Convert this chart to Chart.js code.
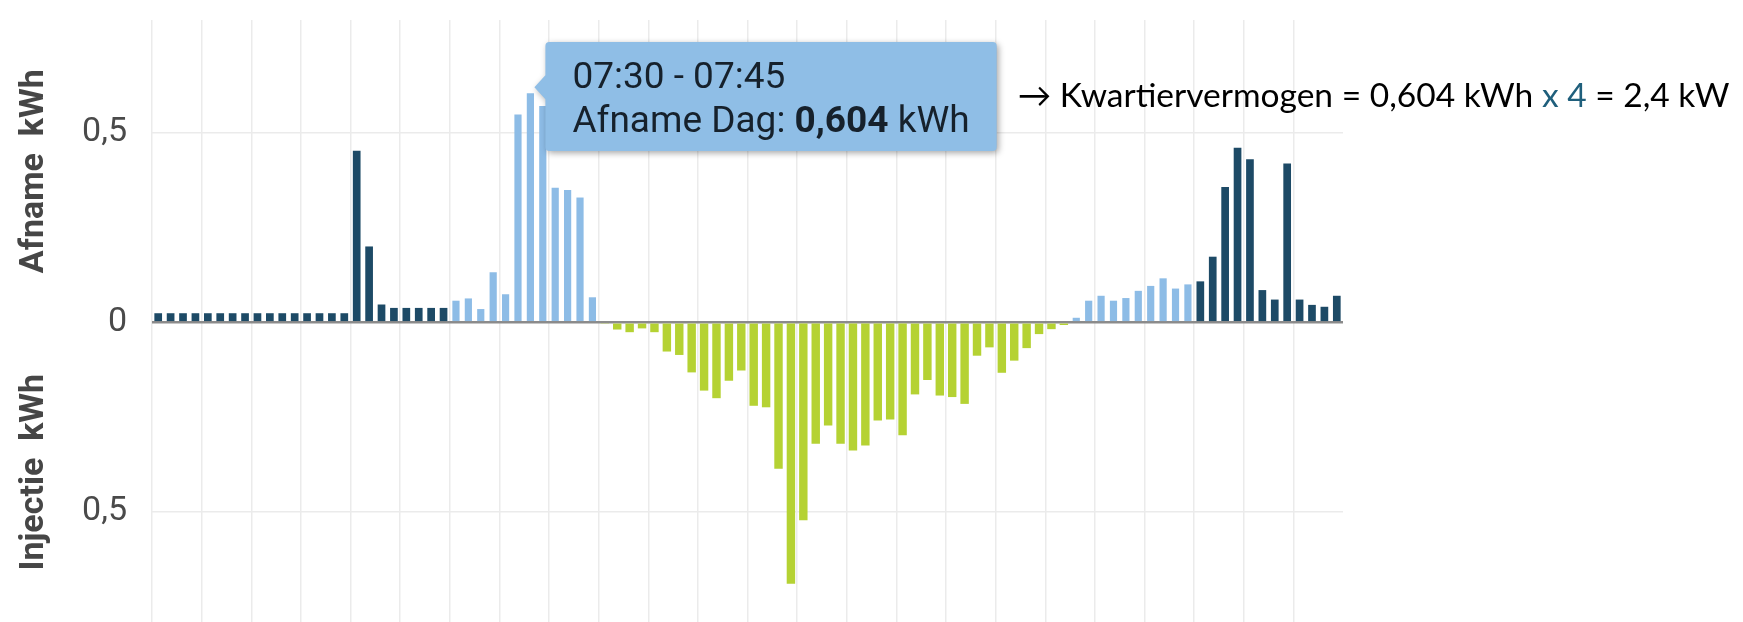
<!DOCTYPE html>
<html><head><meta charset="utf-8">
<script src="https://cdn.jsdelivr.net/npm/chart.js@4"></script>
<style>html,body{margin:0;padding:0;background:#fff;}canvas{display:block}</style>
</head><body>
<canvas id="c" width="1743" height="622"></canvas>
<script>
const kwartieren = [
"00:00","00:15","00:30","00:45","01:00","01:15","01:30","01:45","02:00","02:15","02:30","02:45",
"03:00","03:15","03:30","03:45","04:00","04:15","04:30","04:45","05:00","05:15","05:30","05:45",
"06:00","06:15","06:30","06:45","07:00","07:15","07:30","07:45","08:00","08:15","08:30","08:45",
"09:00","09:15","09:30","09:45","10:00","10:15","10:30","10:45","11:00","11:15","11:30","11:45",
"12:00","12:15","12:30","12:45","13:00","13:15","13:30","13:45","14:00","14:15","14:30","14:45",
"15:00","15:15","15:30","15:45","16:00","16:15","16:30","16:45","17:00","17:15","17:30","17:45",
"18:00","18:15","18:30","18:45","19:00","19:15","19:30","19:45","20:00","20:15","20:30","20:45",
"21:00","21:15","21:30","21:45","22:00","22:15","22:30","22:45","23:00","23:15","23:30","23:45"];

const afnameNacht = [
0.024,0.024,0.024,0.024,0.024,0.024,0.024,0.024,0.024,0.024,0.024,0.024,
0.024,0.024,0.024,0.024,0.452,0.200,0.047,0.038,0.038,0.038,0.038,0.038,
null,null,null,null,null,null,null,null,null,null,null,null,
null,null,null,null,null,null,null,null,null,null,null,null,
null,null,null,null,null,null,null,null,null,null,null,null,
null,null,null,null,null,null,null,null,null,null,null,null,
null,null,null,null,null,null,null,null,null,null,null,null,
0.108,0.173,0.357,0.460,0.430,0.085,0.060,0.419,0.060,0.046,0.041,0.070];

const afnameDag = [
null,null,null,null,null,null,null,null,null,null,null,null,
null,null,null,null,null,null,null,null,null,null,null,null,
0.057,0.063,0.035,0.132,0.074,0.548,0.604,0.570,0.355,0.349,0.329,0.066,
null,null,null,null,null,null,null,null,null,null,null,null,
null,null,null,null,null,null,null,null,null,null,null,null,
null,null,null,null,null,null,null,null,null,null,null,null,
null,null,0.012,0.057,0.070,0.057,0.064,0.083,0.096,0.116,0.089,0.100,
null,null,null,null,null,null,null,null,null,null,null,null];

const injectie = [
null,null,null,null,null,null,null,null,null,null,null,null,
null,null,null,null,null,null,null,null,null,null,null,null,
null,null,null,null,null,null,null,null,null,null,null,null,
-0.004,-0.019,-0.026,-0.016,-0.026,-0.077,-0.086,-0.132,-0.180,-0.200,-0.154,-0.127,
-0.220,-0.224,-0.386,-0.689,-0.522,-0.320,-0.272,-0.320,-0.338,-0.325,-0.259,-0.256,
-0.298,-0.190,-0.152,-0.193,-0.197,-0.215,-0.088,-0.066,-0.133,-0.101,-0.068,-0.031,
-0.018,-0.007,null,null,null,null,null,null,null,null,null,null,
null,null,null,null,null,null,null,null,null,null,null,null];

const yTicks = [-0.5, 0, 0.5];
const yTitels = ['Afname  kWh', 'Injectie  kWh'];
const reeksNamen = ['Afname Nacht', 'Afname Dag', 'Injectie'];
const tooltipIndex = 30;
const notitie = ['\u2192 Kwartiervermogen = 0,604 kWh ', 'x 4', ' = 2,4 kW'];

const fmt = v => String(Math.abs(v)).replace('.', ',');

const overlay = {
  id: 'overlay',
  afterDraw(chart) {
    const ctx = chart.ctx, ca = chart.chartArea, ys = chart.scales.y;
    const y0 = ys.getPixelForValue(0);
    ctx.save();
    // axis titles
    ctx.fillStyle = '#464646';
    ctx.font = 'bold 34px Roboto';
    ctx.textAlign = 'center';
    ctx.textBaseline = 'middle';
    [[yTitels[0], (ca.top + y0) / 2], [yTitels[1], (y0 + ca.bottom) / 2]].forEach(([t, cy]) => {
      ctx.save(); ctx.translate(34, cy); ctx.rotate(-Math.PI / 2); ctx.fillText(t, 0, 0); ctx.restore();
    });

    // tooltip
    const el = chart.getDatasetMeta(1).data[tooltipIndex];
    const title = kwartieren[tooltipIndex] + ' - ' + kwartieren[tooltipIndex + 1];
    const p1 = reeksNamen[1] + ': ';
    const p2 = afnameDag[tooltipIndex].toFixed(3).replace('.', ',');
    const p3 = ' kWh';
    ctx.textAlign = 'left';
    ctx.textBaseline = 'alphabetic';
    const fReg = '37px Roboto', fBold = 'bold 37px Roboto';
    ctx.font = fReg; const w1 = ctx.measureText(p1).width, w3 = ctx.measureText(p3).width, wt = ctx.measureText(title).width;
    ctx.font = fBold; const w2 = ctx.measureText(p2).width;
    const tw = Math.max(wt, w1 + w2 + w3);
    const bx = el.x + 15, by = 42, bw = tw + 54, bh = 109;
    const tipX = el.x + 4, tipY = el.y - 6;
    ctx.save();
    ctx.shadowColor = 'rgba(0,0,0,0.35)'; ctx.shadowBlur = 6; ctx.shadowOffsetX = 2; ctx.shadowOffsetY = 2;
    ctx.fillStyle = '#8fbee6';
    ctx.beginPath();
    const r = 4;
    ctx.moveTo(bx + r, by);
    ctx.lineTo(bx + bw - r, by); ctx.quadraticCurveTo(bx + bw, by, bx + bw, by + r);
    ctx.lineTo(bx + bw, by + bh - r); ctx.quadraticCurveTo(bx + bw, by + bh, bx + bw - r, by + bh);
    ctx.lineTo(bx + r, by + bh); ctx.quadraticCurveTo(bx, by + bh, bx, by + bh - r);
    ctx.lineTo(bx, tipY + 12); ctx.lineTo(tipX, tipY); ctx.lineTo(bx, tipY - 12);
    ctx.lineTo(bx, by + r); ctx.quadraticCurveTo(bx, by, bx + r, by);
    ctx.closePath(); ctx.fill();
    ctx.restore();
    ctx.fillStyle = '#16212c';
    const tx = bx + 27;
    ctx.font = fReg; ctx.fillText(title, tx, by + 46);
    ctx.fillText(p1, tx, by + 90);
    ctx.font = fBold; ctx.fillText(p2, tx + w1, by + 90);
    ctx.font = fReg; ctx.fillText(p3, tx + w1 + w2, by + 90);

    // note
    const nx = bx + bw + 21, target = 712;
    ctx.font = '30px Lato, "DejaVu Sans"';
    const tot = notitie.reduce((s, t) => s + ctx.measureText(t).width, 0);
    const size = 30 * target / tot;
    ctx.font = size.toFixed(2) + 'px Lato, "DejaVu Sans"';
    let x = nx;
    notitie.forEach((t, i) => {
      ctx.fillStyle = i === 1 ? '#1f5f7c' : '#000000';
      ctx.fillText(t, x, 107);
      x += ctx.measureText(t).width;
    });
    ctx.restore();
  }
};

new Chart(document.getElementById('c'), {
  type: 'bar',
  data: {
    labels: kwartieren,
    datasets: [
      { label: reeksNamen[0], data: afnameNacht, backgroundColor: '#1d4a66', barPercentage: 0.62, categoryPercentage: 1 },
      { label: reeksNamen[1], data: afnameDag, backgroundColor: '#8dbce6', barPercentage: 0.58, categoryPercentage: 1 },
      { label: reeksNamen[2], data: injectie, backgroundColor: '#b5d233', barPercentage: 0.68, categoryPercentage: 1 }
    ]
  },
  options: {
    responsive: false,
    devicePixelRatio: 1,
    animation: false,
    layout: { padding: { left: 0, right: 400, top: 20, bottom: 0 } },
    plugins: { legend: { display: false }, tooltip: { enabled: false } },
    scales: {
      x: {
        stacked: true,
        offset: true,
        ticks: { display: false, padding: 0 },
        border: { display: false },
        grid: {
          offset: true, drawTicks: false,
          color: c => (c.index % 4 === 0) ? '#ebebeb' : 'rgba(0,0,0,0)',
          lineWidth: 1.5
        },
        afterFit: s => { s.height = 0; s.paddingLeft = 0; s.paddingRight = 0; s.paddingTop = 0; s.paddingBottom = 0; }
      },
      y: {
        stacked: true,
        min: -0.79, max: 0.797,
        afterBuildTicks: s => { s.ticks = yTicks.map(v => ({ value: v })); },
        afterFit: s => { s.width = 152; s.paddingTop = 0; s.paddingBottom = 0; },
        border: { display: false },
        grid: {
          drawTicks: false,
          color: c => (c.tick && c.tick.value === 0) ? '#8b8b8b' : '#ebebeb',
          lineWidth: c => (c.tick && c.tick.value === 0) ? 2.5 : 1.5
        },
        ticks: {
          padding: 25,
          color: '#4a4a4a',
          font: { family: 'Roboto', size: 34 },
          callback: v => fmt(v)
        }
      }
    }
  },
  plugins: [overlay]
});
</script>
</body></html>
